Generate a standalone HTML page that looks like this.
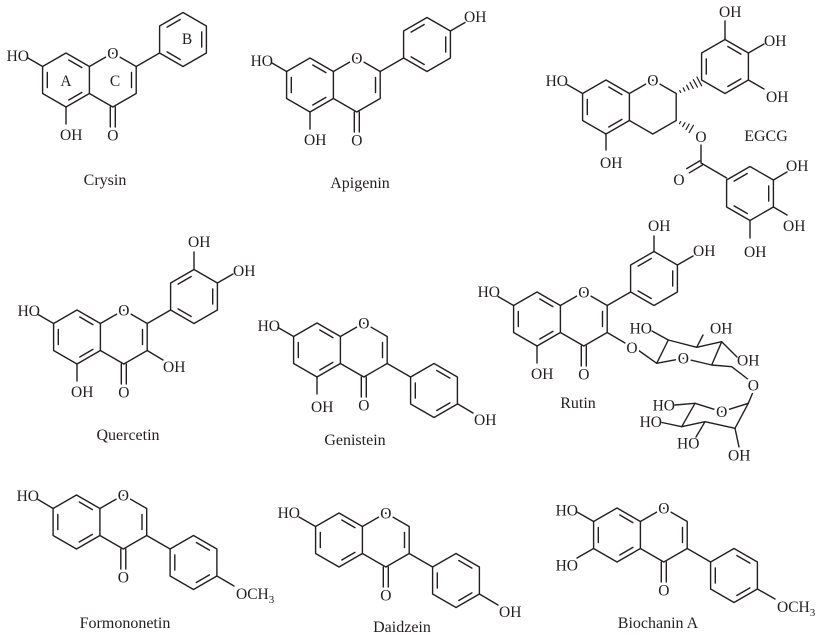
<!DOCTYPE html>
<html><head><meta charset="utf-8">
<style>
html,body{margin:0;padding:0;background:#fff;}
svg{display:block;}
.b{stroke:#231f20;fill:none;stroke-width:1.4;stroke-linecap:round;stroke-linejoin:round;}
text{font-family:"Liberation Serif",serif;font-size:15.5px;fill:#231f20;}
.h{stroke:#fff;stroke-width:5;paint-order:stroke;stroke-linejoin:round;}
.lab{font-size:16px;}
.m{text-anchor:middle;}
.e{text-anchor:end;}
</style></head><body>
<svg width="825" height="636" viewBox="0 0 825 636" xmlns="http://www.w3.org/2000/svg">
<defs>
<g id="A"><polygon points="0,-27 23.4,-13.5 23.4,13.5 0,27 -23.4,13.5 -23.4,-13.5"/><path d="M-18.7,-7.6V7.6M2.8,-20L15.9,-12.4M2.8,20L15.9,12.4"/></g>
<g id="Bf"><polygon points="0,-27 23.4,-13.5 23.4,13.5 0,27 -23.4,13.5 -23.4,-13.5"/><path d="M-15.9,-12.4L-2.8,-20M18.7,-7.6V7.6M-2.8,20L-15.9,12.4"/></g>
<path id="C" d="M23.4,-13.5L46.8,-27L70.2,-13.5L70.2,13.5L46.8,27L23.4,13.5"/>
<g id="core"><use href="#A"/><use href="#C"/><path d="M65.5,-7.6V7.6M44.3,27V47M49.3,27V47"/></g>
<g id="flav"><use href="#core"/><path d="M70.2,-13.5L93.6,-27"/><use href="#Bf" x="117" y="-40.5"/></g>
<g id="iso"><use href="#core"/><path d="M70.2,13.5L93.6,27"/><use href="#A" x="117" y="40.5"/></g>
</defs>

<g class="b">
<!-- Chrysin -->
<use href="#flav" x="66" y="80"/>
<path d="M42.6,66.5L28,58M66,107V124"/>
<!-- Apigenin -->
<use href="#flav" x="310" y="85"/>
<path d="M286.6,71.5L272,63M310,112V129M450.4,31L465,22.5"/>
<!-- EGCG -->
<use href="#A" x="606" y="107"/>
<use href="#C" x="606" y="107"/>
<path d="M582.6,93.5L567,84.5M606,134V150"/>
<use href="#A" x="725" y="66.5"/>
<path d="M725,39.5V21M748.4,53L764,44M748.4,80L764,89"/>
<path stroke-width="1.2" d="M679.7,90.6L680.7,92.4M683.2,87.9L684.8,91.1M686.6,85.1L689,89.7M690,82.4L693.2,88.4M693.4,79.7L697.4,87.1M696.9,77L701.6,85.8"/>
<path stroke-width="1.2" d="M679.5,123.6L680.7,121.6M682.7,126.6L684.9,122.8M686,129.6L689.2,124M689.2,132.6L693.4,125.3"/>
<path d="M701,145V163M699.7,160.9L686.7,168.6M702.3,165.1L689.3,172.8M701,163L726.7,178"/>
<use href="#Bf" x="750" y="193.5"/>
<path d="M773.4,180L787,172M773.4,207L787,215M750,220.5V238"/>
<!-- Quercetin -->
<use href="#flav" x="77" y="337"/>
<path d="M53.6,323.5L38,314.5M77,364V381M147.2,350.5L163,360M194,269.5V252M217.4,283L233,274"/>
<!-- Genistein -->
<use href="#iso" x="317" y="350"/>
<path d="M293.6,336.5L278,327.5M317,377V394M457.8,404L473,413"/>
<!-- Rutin -->
<use href="#flav" x="537" y="319"/>
<path d="M513.6,305.5L498,296.5M537,346V363M654,251.5V236M677.4,265L693,256M607.2,332.5L625,343M638,350L656.7,363.3"/>
<polygon points="656.7,363.3 683.3,358.3 711.7,365 721.7,341.7 696.7,347.3 668.3,340"/>
<path d="M668.3,340L652,331M696.7,347.3L703,335M721.7,341.7L737,357M711.7,365L731.7,366.7L749,380M753,392L748.3,403.3"/>
<polygon points="695,403.3 721.7,411.7 748.3,403.3 735,428.3 705,421.7 681.7,426.7"/>
<path d="M695,403.3L675,405M681.7,426.7L662,422.5M705,421.7L696,437M735,428.3L739,447"/>
<!-- Formononetin -->
<use href="#iso" x="76.5" y="522"/>
<path d="M53.1,508.5L38,499.5M216.9,576L234,586"/>
<!-- Daidzein -->
<use href="#iso" x="339" y="540"/>
<path d="M315.6,526.5L299,517M479.4,594L498,605"/>
<!-- Biochanin A -->
<use href="#iso" x="617" y="535"/>
<path d="M593.6,521.5L577,512M593.6,548.5L577,558M757.4,589L775,599"/>
</g>

<!-- labels -->
<g>
<!-- Chrysin -->
<text class="h m" x="112.8" y="58.5">O</text>
<text class="m" x="112.8" y="140.5">O</text>
<text class="e" x="29" y="61">HO</text>
<text x="60" y="140">OH</text>
<text class="m" x="66" y="86">A</text>
<text class="m" x="115" y="86">C</text>
<text class="m" x="187" y="44">B</text>
<text class="lab m" x="105" y="185">Crysin</text>
<!-- Apigenin -->
<text class="h m" x="356.8" y="63.5">O</text>
<text class="m" x="356.8" y="145.5">O</text>
<text class="e" x="273" y="66">HO</text>
<text x="304" y="145">OH</text>
<text x="464" y="22">OH</text>
<text class="lab m" x="360" y="188">Apigenin</text>
<!-- EGCG -->
<text class="h m" x="652.8" y="85.5">O</text>
<text class="e" x="568" y="86">HO</text>
<text x="600" y="168">OH</text>
<text x="719" y="17">OH</text>
<text x="764" y="46">OH</text>
<text x="766" y="102">OH</text>
<text class="h m" x="701" y="142">O</text>
<text class="h m" x="679" y="185">O</text>
<text x="786" y="171">OH</text>
<text x="783" y="231">OH</text>
<text x="744" y="257">OH</text>
<text class="lab m" x="766" y="141">EGCG</text>
<!-- Quercetin -->
<text class="h m" x="123.8" y="315.5">O</text>
<text class="m" x="123.8" y="397.5">O</text>
<text class="e" x="40" y="316">HO</text>
<text x="71" y="397">OH</text>
<text x="163" y="372">OH</text>
<text x="188" y="247">OH</text>
<text x="233" y="276">OH</text>
<text class="lab m" x="128" y="440">Quercetin</text>
<!-- Genistein -->
<text class="h m" x="363.8" y="328.5">O</text>
<text class="m" x="363.8" y="410.5">O</text>
<text class="e" x="280" y="331">HO</text>
<text x="311" y="412">OH</text>
<text x="474" y="425">OH</text>
<text class="lab m" x="355" y="445">Genistein</text>
<!-- Rutin -->
<text class="h m" x="583.8" y="297.5">O</text>
<text class="m" x="583.8" y="379.5">O</text>
<text class="e" x="500" y="297">HO</text>
<text x="531" y="379">OH</text>
<text x="648" y="231">OH</text>
<text x="693" y="256">OH</text>
<text class="h m" x="632" y="353">O</text>
<text class="h m" x="683.3" y="363.5">O</text>
<text class="e" x="652" y="333.5">HO</text>
<text x="710" y="333.5">OH</text>
<text x="737" y="365.5">OH</text>
<text class="h m" x="753.3" y="390.5">O</text>
<text class="h m" x="721.7" y="417">O</text>
<text class="e" x="675" y="410.5">HO</text>
<text class="e" x="662" y="427">HO</text>
<text x="677" y="448.5">HO</text>
<text x="728" y="460.5">OH</text>
<text class="lab m" x="578" y="408">Rutin</text>
<!-- Formononetin -->
<text class="h m" x="123.3" y="500.5">O</text>
<text class="m" x="123.3" y="582.5">O</text>
<text class="e" x="39" y="501">HO</text>
<text x="236" y="599">OCH<tspan font-size="11" dy="4">3</tspan></text>
<text class="lab m" x="125" y="628">Formononetin</text>
<!-- Daidzein -->
<text class="h m" x="385.8" y="518.5">O</text>
<text class="m" x="385.8" y="600.5">O</text>
<text class="e" x="300" y="518">HO</text>
<text x="499" y="617">OH</text>
<text class="lab m" x="402" y="632">Daidzein</text>
<!-- Biochanin A -->
<text class="h m" x="663.8" y="513.5">O</text>
<text class="m" x="663.8" y="595.5">O</text>
<text class="e" x="578" y="515.5">HO</text>
<text class="e" x="578" y="570.5">HO</text>
<text x="777" y="612">OCH<tspan font-size="11" dy="4">3</tspan></text>
<text class="lab m" x="658" y="628">Biochanin A</text>
</g>
</svg>
</body></html>
